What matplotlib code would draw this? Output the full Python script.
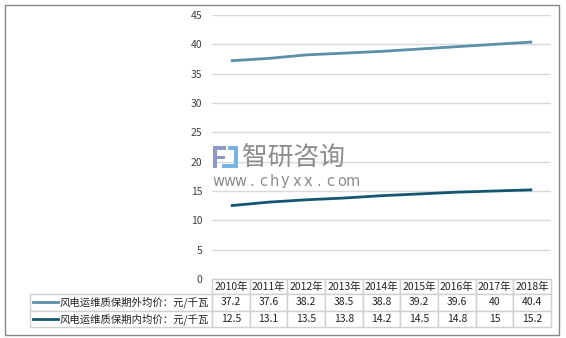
import matplotlib.pyplot as plt
from matplotlib.table import Table
from matplotlib.lines import Line2D
from matplotlib.patches import Rectangle

plt.rcParams['font.family'] = ['Noto Sans CJK SC', 'DejaVu Sans']

# data
years = ['2010年', '2011年', '2012年', '2013年', '2014年', '2015年', '2016年', '2017年', '2018年']
outside_price = [37.2, 37.6, 38.2, 38.5, 38.8, 39.2, 39.6, 40, 40.4]
inside_price = [12.5, 13.1, 13.5, 13.8, 14.2, 14.5, 14.8, 15, 15.2]
outside_label = '风电运维质保期外均价：元/千瓦'
inside_label = '风电运维质保期内均价：元/千瓦'
yticks = [0, 5, 10, 15, 20, 25, 30, 35, 40, 45]

c_out = '#5b91aa'
c_in = '#145773'

W, H = 566, 338
fig = plt.figure(figsize=(W / 100, H / 100), dpi=100)

# plot area in pixels
x0, x1, y0, y1 = 212, 551, 15, 279
ax = fig.add_axes([x0 / W, 1 - y1 / H, (x1 - x0) / W, (y1 - y0) / H])

xs = list(range(len(years)))
ax.plot(xs, outside_price, color=c_out, lw=2.0, solid_capstyle='butt')
ax.plot(xs, inside_price, color=c_in, lw=2.0, solid_capstyle='butt')

ax.set_xlim(-0.5, len(years) - 0.5)
ax.set_ylim(0, 45)
ax.set_yticks(yticks)
ax.set_xticks([])
ax.tick_params(axis='y', length=0, pad=7, labelsize=7.5, labelcolor='#404040')
ax.grid(axis='y', color='#d9d9d9', lw=1)
ax.set_axisbelow(True)
for s in ax.spines.values():
    s.set_visible(False)

# data table under the plot (sizes in axes units)
ax_w = x1 - x0
ax_h = y1 - y0
head_h = 15 / ax_h
row_h = 16.5 / ax_h
lab_w = (x0 - 30) / ax_w
col_w = 1 / len(years)
edge = '#d0d0d0'
tbl = Table(ax, loc='bottom')
for j, yr in enumerate(years):
    tbl.add_cell(0, j, col_w, head_h, text=yr, loc='center', edgecolor=edge)
rows = [(outside_label, outside_price), (inside_label, inside_price)]
for i, (lab, vals) in enumerate(rows, start=1):
    c = tbl.add_cell(i, -1, lab_w, row_h, text=lab, loc='right', edgecolor=edge)
    c.PAD = 0.015
    for j, v in enumerate(vals):
        tbl.add_cell(i, j, col_w, row_h, text=f'{v:g}', loc='center', edgecolor=edge)
tbl.auto_set_font_size(False)
tbl.set_fontsize(7.5)
ax.add_table(tbl)
for cell in tbl.get_celld().values():
    cell.get_text().set_color('#222222')

# legend keys in the row label cells
for i, col in enumerate([c_out, c_in]):
    yc = 1 - (y1 + 15 + 16.5 * (i + 0.5)) / H
    fig.add_artist(Line2D([33 / W, 58 / W], [yc, yc], color=col, lw=2.0))


# watermark (logo blocks given in pixels: x, y-top, w, h)
def px_rect(x, y, w, h, color):
    fig.add_artist(Rectangle((x / W, 1 - (y + h) / H), w / W, h / H, color=color, lw=0))


logo_gray = '#8e9ac2'
logo_blue = '#78b4e2'
px_rect(213, 146, 13, 4, logo_gray)
px_rect(213, 146, 4, 22, logo_gray)
px_rect(217, 156, 8, 3, logo_gray)
px_rect(228, 146, 10, 4, logo_blue)
px_rect(234, 146, 4, 22, logo_blue)
px_rect(222, 164, 16, 4, logo_blue)
fig.text(242 / W, 1 - 158 / H, '智研咨询', fontsize=18.5, color='#8c8c8c', va='center', ha='left')
url = 'www.chyxx.com'
for k, ch in enumerate(url):
    fig.text((218 + k * 11.2) / W, 1 - 181 / H, ch, fontsize=10.5, color='#8c8c8c',
             va='center', ha='center', family='DejaVu Sans')

# outer frame
fig.add_artist(Rectangle((5 / W, 1 - 335 / H), 554 / W, 330 / H, fill=False,
                         edgecolor='#888888', lw=1))

fig.savefig('out.png', dpi=100)
